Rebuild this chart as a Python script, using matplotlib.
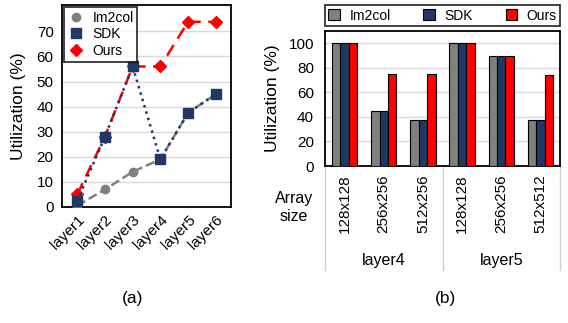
import matplotlib
import numpy as np
from matplotlib import pyplot as plt

matplotlib.use("Agg")
plt.rcParams["font.family"] = ["Liberation Sans", "DejaVu Sans"]
plt.rcParams["font.size"] = 11

GRAY = "#808080"
NAVY = "#1f3864"
RED = "#ff0000"

# (a) utilization per layer
layers = ["layer1", "layer2", "layer3", "layer4", "layer5", "layer6"]
im2col_a = [0.5, 7, 14, 19, 37.5, 45]
sdk_a = [2.5, 28, 56, 19, 37.5, 45]
ours_a = [5, 28, 56, 56, 73.8, 73.8]

# (b) utilization per array size
array_sizes = ["128x128", "256x256", "512x256", "128x128", "256x256", "512x512"]
groups = ["layer4", "layer5"]
im2col_b = [100, 45, 37.5, 100, 90, 37.5]
sdk_b = [100, 45, 37.5, 100, 90, 37.5]
ours_b = [100, 75, 75, 100, 90, 74]

fig = plt.figure(figsize=(5.68, 3.23), dpi=100)

# ---- (a) line chart
ax1 = fig.add_axes([62 / 568, 1 - 207 / 323, 169 / 568, 202 / 323])
x = np.arange(len(layers))
ax1.plot(x, im2col_a, "--", color=GRAY, marker="o", ms=6, lw=1.8, label="Im2col", zorder=3)
ax1.plot(x, ours_a, "--", color=RED, marker="D", ms=6, lw=1.8, dashes=(5, 3), label="Ours", zorder=4)
ax1.plot(x, sdk_a, ":", color=NAVY, marker="s", ms=6.5, lw=1.8, label="SDK", zorder=5)
ax1.set_xlim(-0.55, 5.55)
ax1.set_ylim(0, 80.5)
ax1.set_yticks(range(0, 80, 10))
ax1.set_xticks(x)
ax1.set_xticklabels(layers, rotation=45, ha="right", rotation_mode="anchor")
ax1.tick_params(axis="x", length=0, pad=4)
ax1.tick_params(axis="y", length=0, pad=6)
ax1.grid(axis="y", color="#d9d9d9", lw=1)
ax1.set_axisbelow(True)
for s in ax1.spines.values():
    s.set_linewidth(1.3)
ax1.set_ylabel("Utilization (%)", fontsize=12.5, labelpad=8)
handles, labels = ax1.get_legend_handles_labels()
order = [0, 2, 1]
leg = ax1.legend([handles[i] for i in order], [labels[i] for i in order],
                 loc="upper left", fancybox=False, edgecolor="black", fontsize=10,
                 borderaxespad=0.15, handlelength=1.2, handletextpad=0.6,
                 labelspacing=0.2, borderpad=0.25)
leg.get_frame().set_linewidth(1.3)
for h in leg.legend_handles:
    h.set_linestyle("none")
fig.text(133 / 568, 1 - 298 / 323, "(a)", ha="center", va="center", fontsize=12.5)

# ---- (b) grouped bar chart
ax2 = fig.add_axes([325 / 568, 1 - 166 / 323, 235 / 568, 135 / 323])
xb = np.arange(len(array_sizes))
w = 0.215
ax2.bar(xb - w, im2col_b, w, color=GRAY, edgecolor="black", lw=0.8, label="Im2col", zorder=3)
ax2.bar(xb, sdk_b, w, color=NAVY, edgecolor="black", lw=0.8, label="SDK", zorder=3)
ax2.bar(xb + w, ours_b, w, color=RED, edgecolor="black", lw=0.8, label="Ours", zorder=3)
ax2.set_xlim(-0.5, 5.5)
ax2.set_ylim(0, 110)
ax2.set_yticks(range(0, 101, 20))
ax2.set_xticks(xb)
ax2.set_xticklabels(array_sizes, rotation=90, va="top")
ax2.tick_params(axis="x", length=0, pad=6)
ax2.tick_params(axis="y", length=0, pad=8)
ax2.grid(axis="y", color="#d9d9d9", lw=1)
ax2.set_axisbelow(True)
for s in ax2.spines.values():
    s.set_linewidth(1.3)
ax2.set_ylabel("Utilization (%)", fontsize=12.5, labelpad=6)
leg2 = ax2.legend(loc="lower left", bbox_to_anchor=(0, 1.037, 1, 0.155), mode="expand",
                  ncol=3, fancybox=False, edgecolor="black", borderaxespad=0, fontsize=10,
                  handlelength=0.8, handleheight=0.8, handletextpad=0.7,
                  borderpad=0.25)
leg2.get_frame().set_linewidth(1.3)

# category table below the bars
trans = ax2.get_xaxis_transform()
for xv in [-0.5, 2.5, 5.5]:
    ax2.plot([xv, xv], [0, -0.77], color="#d0d0d0", lw=1, transform=trans, clip_on=False)
for i, g in enumerate(groups):
    ax2.text(1 + 3 * i, -0.70, g, transform=trans, ha="center", va="center", fontsize=11.5)
ax2.text(-1.29, -0.307, "Array\nsize", transform=trans, ha="center", va="center",
         fontsize=11.5, linespacing=1.2)
fig.text(445 / 568, 1 - 298 / 323, "(b)", ha="center", va="center", fontsize=12.5)

fig.savefig("out.png", dpi=100)
